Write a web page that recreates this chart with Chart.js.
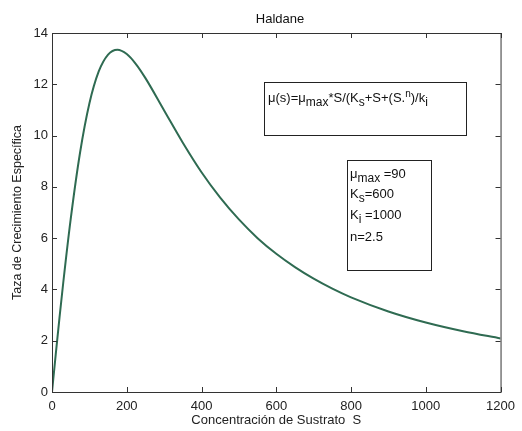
<!DOCTYPE html>
<html>
<head>
<meta charset="utf-8">
<script src="https://cdn.jsdelivr.net/npm/chart.js@4"></script>
<style>
  html, body { margin: 0; padding: 0; background: #fff; }
  #wrap { width: 522px; height: 431px; }
</style>
</head>
<body>
<div id="wrap"><canvas id="grafico"></canvas></div>
<script>
// valores
const sustrato = [0, 10, 20, 30, 50, 75, 100, 125, 150, 175, 200, 225, 250, 300, 350, 400, 450, 500, 550, 600, 650, 700, 750, 800, 900, 1000, 1100, 1200];
const tasa = [0, 1.47, 2.89, 4.25, 6.74, 9.33, 11.25, 12.50, 13.16, 13.35, 13.18, 12.78, 12.24, 10.98, 9.72, 8.57, 7.58, 6.73, 6.00, 5.39, 4.87, 4.42, 4.03, 3.69, 3.14, 2.71, 2.37, 2.09];
const ticksX = [0, 200, 400, 600, 800, 1000, 1200];
const ticksY = [0, 2, 4, 6, 8, 10, 12, 14];

const fuente = '"Liberation Sans", Arial, sans-serif';

// texto con sub/superindices: [texto, 'n'|'sub'|'sup']
function escribir(ctx, partes, x, y) {
  partes.forEach(([t, tipo]) => {
    let dy = 0, tam = 13;
    if (tipo === 'sub') { dy = 4; tam = 12; }
    if (tipo === 'sup') { dy = -5; tam = 10; }
    ctx.font = tam + 'px ' + fuente;
    ctx.fillText(t, x, y + dy);
    x += ctx.measureText(t).width;
  });
}

const marco = {
  id: 'marco',
  afterDraw(chart) {
    const ctx = chart.ctx;
    const a = chart.chartArea;
    const sx = chart.scales.x, sy = chart.scales.y;
    ctx.save();
    ctx.strokeStyle = '#333';
    ctx.lineWidth = 1;
    ctx.strokeRect(a.left + 0.5, a.top + 0.5, a.right - a.left, a.bottom - a.top);
    ctx.beginPath();
    ticksX.forEach(v => {
      const px = Math.round(sx.getPixelForValue(v)) + 0.5;
      ctx.moveTo(px, a.bottom); ctx.lineTo(px, a.bottom - 5);
      ctx.moveTo(px, a.top); ctx.lineTo(px, a.top + 5);
    });
    ticksY.forEach(v => {
      const py = Math.round(sy.getPixelForValue(v)) + 0.5;
      ctx.moveTo(a.left, py); ctx.lineTo(a.left + 5, py);
      ctx.moveTo(a.right, py); ctx.lineTo(a.right - 5, py);
    });
    ctx.stroke();

    // titulo
    ctx.fillStyle = '#111';
    ctx.font = '13px ' + fuente;
    ctx.textAlign = 'center';
    ctx.textBaseline = 'alphabetic';
    ctx.fillText('Haldane', 280, 23);
    ctx.textAlign = 'left';

    // cajas de texto
    ctx.fillStyle = '#fff';
    ctx.fillRect(264, 82, 202, 53);
    ctx.strokeStyle = '#222';
    ctx.strokeRect(264.5, 82.5, 202, 53);
    ctx.fillRect(347, 160, 84, 110);
    ctx.strokeRect(347.5, 160.5, 84, 110);

    ctx.fillStyle = '#111';
    escribir(ctx, [['μ(s)=μ', 'n'], ['max', 'sub'], ['*S/(K', 'n'], ['s', 'sub'], ['+S+(S.', 'n'], ['n', 'sup'], [')/k', 'n'], ['i', 'sub']], 268, 102);
    escribir(ctx, [['μ', 'n'], ['max', 'sub'], [' =90', 'n']], 350, 178);
    escribir(ctx, [['K', 'n'], ['s', 'sub'], ['=600', 'n']], 350, 198);
    escribir(ctx, [['K', 'n'], ['i', 'sub'], [' =1000', 'n']], 350, 219);
    escribir(ctx, [['n=2.5', 'n']], 350, 241);
    ctx.restore();
  }
};

new Chart(document.getElementById('grafico'), {
  type: 'scatter',
  data: {
    datasets: [{
      data: sustrato.map((s, i) => ({ x: s, y: tasa[i] })),
      showLine: true,
      borderColor: '#2f6b52',
      borderWidth: 2,
      pointRadius: 0,
      cubicInterpolationMode: 'monotone'
    }]
  },
  options: {
    responsive: true,
    maintainAspectRatio: false,
    animation: false,
    layout: { padding: { top: 33, right: 12, left: 0, bottom: 0 } },
    plugins: { legend: { display: false }, tooltip: { enabled: false } },
    scales: {
      x: {
        type: 'linear', min: 0, max: 1200,
        afterFit: s => { s.height = 39; },
        afterBuildTicks: s => { s.ticks = ticksX.map(v => ({ value: v })); },
        grid: { display: false, drawTicks: false },
        border: { display: false },
        ticks: { color: '#222', font: { family: fuente, size: 13 }, padding: 7, maxRotation: 0, callback: v => String(v) },
        title: { display: true, text: 'Concentración de Sustrato  S', color: '#222', font: { family: fuente, size: 13 }, padding: { top: 0, bottom: 3 } }
      },
      y: {
        min: 0, max: 14,
        afterFit: s => { s.width = 52; },
        afterBuildTicks: s => { s.ticks = ticksY.map(v => ({ value: v })); },
        grid: { display: false, drawTicks: false },
        border: { display: false },
        ticks: { color: '#222', font: { family: fuente, size: 13 }, padding: 4, callback: v => String(v) },
        title: { display: true, text: 'Taza de Crecimiento Específica', color: '#222', font: { family: fuente, size: 12.5 }, padding: { top: 10, bottom: 0 } }
      }
    }
  },
  plugins: [marco]
});
</script>
</body>
</html>
